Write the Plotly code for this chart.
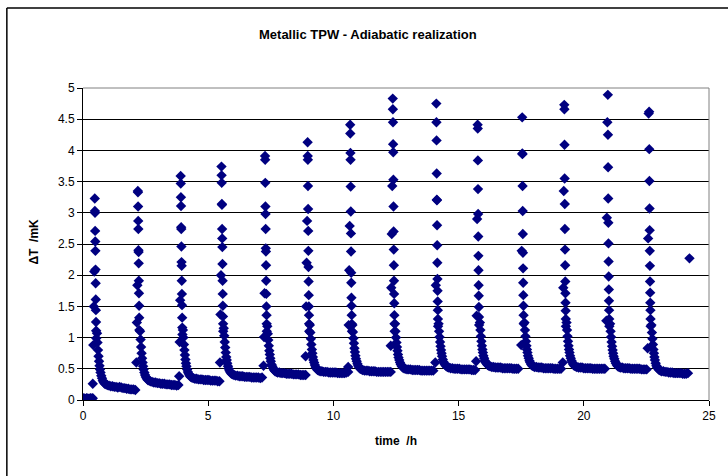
import plotly.graph_objects as go

# ---------------- data ----------------
title_text = "Metallic TPW - Adiabatic realization"
x_title = "time  /h"
y_title = "ΔT  /mK"
x_ticks = [0, 5, 10, 15, 20, 25]
y_ticks = [0, 0.5, 1, 1.5, 2, 2.5, 3, 3.5, 4, 4.5, 5]

# flat start before the first heat pulse
start_t = [0.00, 0.03, 0.06, 0.09, 0.12, 0.15, 0.18, 0.21, 0.24, 0.27, 0.30, 0.33, 0.36, 0.39]
start_v = [0.02, 0.03, 0.02, 0.01, 0.02, 0.03, 0.02, 0.02, 0.01, 0.02, 0.03, 0.02, 0.02, 0.03]

# time (h) of each heat pulse
pulse_t0 = [0.47, 2.19, 3.90, 5.53, 7.27, 8.97, 10.67, 12.37, 14.11, 15.76, 17.54, 19.22, 20.96, 22.61]

# sample offsets (h) relative to the pulse time
rise_dt = [-0.08, -0.06, -0.04, -0.02]
spike_dt = [0.000, 0.005, 0.010, 0.015, 0.020, 0.025, 0.030, 0.035,
            0.040, 0.045, 0.050, 0.055, 0.060, 0.065, 0.070, 0.075]
decay_dt = [0.09, 0.11, 0.13, 0.15, 0.17, 0.19, 0.21, 0.23, 0.26, 0.29, 0.32, 0.36, 0.40, 0.45]
tail_dt = [0.50, 0.57, 0.64, 0.71, 0.78, 0.85, 0.92, 0.99, 1.06, 1.13, 1.20,
           1.27, 1.34, 1.41, 1.48, 1.55, 1.62]

rise_v = [
    [0.26, 0.88, 1.50, 2.06],
    [0.60, 1.24, 1.84],
    [0.38, 0.93, 1.60],
    [0.60, 1.37, 2.00],
    [0.55, 1.01, 1.71],
    [0.70, 1.50, 2.20, 2.87],
    [0.53, 1.20, 2.08, 2.79],
    [0.87, 1.80, 2.66, 3.43],
    [0.60, 1.84],
    [0.62, 1.35, 2.90],
    [0.88, 2.39],
    [0.60, 1.80, 3.35],
    [1.27, 2.92, 4.45],
    [0.83, 2.59, 4.59],
]

spike_v = [
    [3.23, 3.03, 3.00, 2.71, 2.54, 2.39, 2.09, 1.87, 1.61, 1.44, 1.25, 1.11, 0.99],
    [3.35, 3.33, 3.10, 2.87, 2.74, 2.40, 2.37, 2.19, 1.91, 1.71, 1.51, 1.32, 1.12],
    [3.59, 3.47, 3.25, 3.11, 2.77, 2.74, 2.46, 2.21, 2.15, 1.91, 1.70, 1.52, 1.32, 1.16, 1.05],
    [3.74, 3.60, 3.48, 3.14, 3.13, 2.74, 2.59, 2.45, 2.18, 1.91, 1.70, 1.51, 1.34, 1.22, 1.10],
    [3.91, 3.85, 3.48, 3.10, 2.98, 2.74, 2.43, 2.38, 2.16, 1.91, 1.70, 1.50, 1.36, 1.22, 1.10],
    [4.13, 3.91, 3.85, 3.43, 3.06, 2.71, 2.39, 2.13, 1.90, 1.68, 1.50, 1.36, 1.22, 1.10],
    [4.41, 4.27, 3.96, 3.85, 3.42, 3.02, 2.67, 2.38, 2.04, 1.88, 1.64, 1.51, 1.36, 1.22, 1.10],
    [4.83, 4.66, 4.45, 4.10, 3.97, 3.53, 3.10, 2.70, 2.41, 2.16, 1.91, 1.70, 1.55, 1.36, 1.22, 1.10],
    [4.75, 4.45, 4.16, 3.63, 3.21, 3.20, 2.80, 2.48, 2.20, 1.94, 1.75, 1.58, 1.44, 1.30, 1.18],
    [4.41, 4.35, 3.84, 3.38, 2.98, 2.62, 2.31, 2.08, 1.84, 1.67, 1.49, 1.33, 1.20],
    [4.53, 3.95, 3.94, 3.43, 3.03, 2.66, 2.36, 2.11, 1.88, 1.68, 1.51, 1.36, 1.22],
    [4.73, 4.66, 4.09, 3.55, 3.14, 2.74, 2.41, 2.16, 1.90, 1.71, 1.56, 1.43, 1.30, 1.18],
    [4.89, 4.25, 3.73, 3.23, 2.84, 2.51, 2.22, 1.98, 1.77, 1.59, 1.44, 1.30, 1.18],
    [4.62, 4.02, 3.51, 3.07, 2.72, 2.39, 2.15, 1.90, 1.72, 1.56, 1.44, 1.30, 1.18],
]

decay_v = [
    [1.07, 0.92, 0.80, 0.70, 0.62, 0.55, 0.49, 0.44, 0.39, 0.35, 0.31, 0.28, 0.26, 0.25],
    [1.10, 0.97, 0.85, 0.75, 0.67, 0.60, 0.54, 0.49, 0.44, 0.40, 0.37, 0.34, 0.32, 0.31],
    [1.12, 1.00, 0.89, 0.80, 0.72, 0.65, 0.59, 0.54, 0.49, 0.45, 0.42, 0.39, 0.37, 0.36],
    [1.15, 1.03, 0.93, 0.84, 0.76, 0.69, 0.64, 0.59, 0.54, 0.50, 0.47, 0.44, 0.42, 0.41],
    [1.18, 1.06, 0.96, 0.87, 0.79, 0.73, 0.67, 0.62, 0.57, 0.54, 0.51, 0.48, 0.46, 0.45],
    [1.20, 1.08, 0.98, 0.89, 0.81, 0.75, 0.69, 0.64, 0.60, 0.56, 0.53, 0.50, 0.48, 0.47],
    [1.20, 1.09, 0.99, 0.91, 0.83, 0.77, 0.71, 0.66, 0.62, 0.58, 0.55, 0.52, 0.50, 0.49],
    [1.22, 1.10, 1.00, 0.92, 0.85, 0.79, 0.73, 0.68, 0.64, 0.60, 0.57, 0.54, 0.52, 0.51],
    [1.22, 1.10, 1.01, 0.93, 0.86, 0.80, 0.75, 0.70, 0.65, 0.61, 0.58, 0.56, 0.54, 0.53],
    [1.24, 1.12, 1.02, 0.94, 0.87, 0.81, 0.76, 0.71, 0.67, 0.63, 0.60, 0.58, 0.56, 0.55],
    [1.24, 1.12, 1.02, 0.94, 0.87, 0.81, 0.76, 0.71, 0.67, 0.63, 0.60, 0.57, 0.55, 0.54],
    [1.24, 1.12, 1.02, 0.94, 0.87, 0.81, 0.76, 0.71, 0.67, 0.63, 0.60, 0.57, 0.55, 0.54],
    [1.22, 1.10, 1.01, 0.93, 0.86, 0.80, 0.75, 0.70, 0.66, 0.62, 0.59, 0.56, 0.54, 0.53],
    [1.20, 1.08, 0.98, 0.89, 0.81, 0.75, 0.69, 0.64, 0.59, 0.55, 0.52, 0.50, 0.48, 0.47],
]

tail_v = [
    [0.24, 0.23, 0.22, 0.22, 0.21, 0.21, 0.20, 0.21, 0.20, 0.19, 0.19, 0.18, 0.18, 0.17, 0.17, 0.17, 0.16],
    [0.30, 0.29, 0.28, 0.28, 0.27, 0.27, 0.26, 0.26, 0.26, 0.25, 0.25, 0.25, 0.24, 0.24, 0.24, 0.23, 0.24],
    [0.35, 0.34, 0.34, 0.33, 0.33, 0.33, 0.32, 0.32, 0.32, 0.32, 0.31, 0.31, 0.31, 0.31, 0.30, 0.30],
    [0.40, 0.39, 0.39, 0.38, 0.38, 0.38, 0.37, 0.37, 0.37, 0.37, 0.36, 0.36, 0.36, 0.36, 0.36, 0.35, 0.36],
    [0.44, 0.44, 0.43, 0.43, 0.43, 0.42, 0.42, 0.42, 0.42, 0.41, 0.41, 0.41, 0.41, 0.40, 0.40, 0.40, 0.40],
    [0.46, 0.46, 0.45, 0.45, 0.45, 0.44, 0.44, 0.44, 0.44, 0.44, 0.43, 0.43, 0.43, 0.43, 0.43, 0.44, 0.45],
    [0.48, 0.47, 0.47, 0.47, 0.46, 0.46, 0.46, 0.46, 0.45, 0.45, 0.45, 0.45, 0.45, 0.45, 0.45, 0.45, 0.45],
    [0.50, 0.49, 0.49, 0.49, 0.48, 0.48, 0.48, 0.48, 0.48, 0.47, 0.47, 0.47, 0.47, 0.47, 0.47, 0.47, 0.47],
    [0.52, 0.51, 0.51, 0.50, 0.50, 0.50, 0.50, 0.49, 0.49, 0.49, 0.49, 0.49, 0.49, 0.48, 0.48, 0.48],
    [0.54, 0.53, 0.53, 0.52, 0.52, 0.52, 0.52, 0.51, 0.51, 0.51, 0.51, 0.51, 0.51, 0.50, 0.50, 0.50, 0.50],
    [0.53, 0.53, 0.52, 0.52, 0.52, 0.51, 0.51, 0.51, 0.51, 0.51, 0.51, 0.50, 0.50, 0.50, 0.50, 0.50],
    [0.53, 0.52, 0.52, 0.52, 0.51, 0.51, 0.51, 0.51, 0.51, 0.50, 0.50, 0.50, 0.50, 0.50, 0.50, 0.50, 0.50],
    [0.52, 0.52, 0.51, 0.51, 0.51, 0.51, 0.50, 0.50, 0.50, 0.50, 0.50, 0.50, 0.49, 0.49, 0.49, 0.49],
    [0.46, 0.46, 0.45, 0.45, 0.44, 0.44, 0.44, 0.43, 0.43, 0.43, 0.43, 0.43, 0.42, 0.42, 0.42, 0.43],
]

# last sample (start of a new pulse)
end_t = [24.22]
end_v = [2.27]

# ---------------- assemble the series ----------------
xs = list(start_t)
ys = list(start_v)
for k, t0 in enumerate(pulse_t0):
    r = rise_v[k]
    for dt, v in zip(rise_dt[-len(r):], r):
        xs.append(t0 + dt); ys.append(v)
    for dt, v in zip(spike_dt, spike_v[k]):
        xs.append(t0 + dt); ys.append(v)
    for dt, v in zip(decay_dt, decay_v[k]):
        xs.append(t0 + dt); ys.append(v)
    for dt, v in zip(tail_dt, tail_v[k]):
        xs.append(t0 + dt); ys.append(v)
xs += end_t
ys += end_v

NAVY = "#000080"
FONT = "Liberation Sans, Arial, sans-serif"

fig = go.Figure()
fig.add_trace(go.Scatter(
    x=xs, y=ys, mode="markers",
    marker=dict(symbol="diamond", size=8, color=NAVY, line=dict(width=0)),
    showlegend=False, hoverinfo="x+y",
))

W, H = 728, 476
L, R, T, B = 83, 12, 88, 76
pw, ph = W - L - R, H - T - B

def px_x(p):
    return (p - L) / pw

def px_y(p):
    return (H - B - p) / ph

fig.update_layout(
    width=W, height=H,
    margin=dict(l=L, r=R, t=T, b=B),
    paper_bgcolor="white", plot_bgcolor="white",
    font=dict(family=FONT, size=12, color="black"),
    xaxis=dict(
        range=[0, 25], tickvals=x_ticks, ticktext=[str(v) for v in x_ticks],
        showgrid=False, zeroline=False,
        showline=True, linecolor="black", linewidth=1,
        ticks="outside", ticklen=5, tickcolor="black",
        tickfont=dict(size=12, family=FONT),
    ),
    yaxis=dict(
        range=[0, 5], tickvals=y_ticks, ticktext=[f"{v:g}" for v in y_ticks],
        showgrid=True, gridcolor="black", gridwidth=1,
        zeroline=False,
        showline=True, linecolor="black", linewidth=1,
        ticks="outside", ticklen=5, tickcolor="black",
        tickfont=dict(size=12, family=FONT),
    ),
    annotations=[
        dict(text="<b>" + title_text + "</b>", xref="paper", yref="paper",
             x=px_x(371), y=px_y(35), xanchor="center", yanchor="middle",
             showarrow=False, font=dict(size=13, family=FONT)),
        dict(text="<b>" + x_title + "</b>", xref="paper", yref="paper",
             x=px_x(400), y=px_y(441), xanchor="center", yanchor="middle",
             showarrow=False, font=dict(size=12, family=FONT)),
        dict(text="<b>" + y_title + "</b>", xref="paper", yref="paper",
             x=px_x(33), y=px_y(242), xanchor="center", yanchor="middle",
             textangle=-90, showarrow=False, font=dict(size=12, family=FONT)),
    ],
    shapes=[
        # plot-area border (top and right)
        dict(type="line", xref="paper", yref="paper", x0=0, x1=1, y0=1, y1=1,
             line=dict(color="#808080", width=1), layer="above"),
        dict(type="line", xref="paper", yref="paper", x0=1, x1=1, y0=0, y1=1,
             line=dict(color="#808080", width=1), layer="above"),
        # outer chart border (left and top, rest is outside the picture)
        dict(type="line", xref="paper", yref="paper",
             x0=px_x(6), x1=px_x(6), y0=px_y(8), y1=px_y(490),
             line=dict(color="black", width=1.5)),
        dict(type="line", xref="paper", yref="paper",
             x0=px_x(6), x1=px_x(740), y0=px_y(8), y1=px_y(8),
             line=dict(color="black", width=1.5)),
    ],
)

fig.write_html(
    "out.html",
    config={"displayModeBar": False},
    post_script="document.body.style.margin='0';document.body.style.padding='0';"
                "document.documentElement.style.overflow='hidden';",
)
